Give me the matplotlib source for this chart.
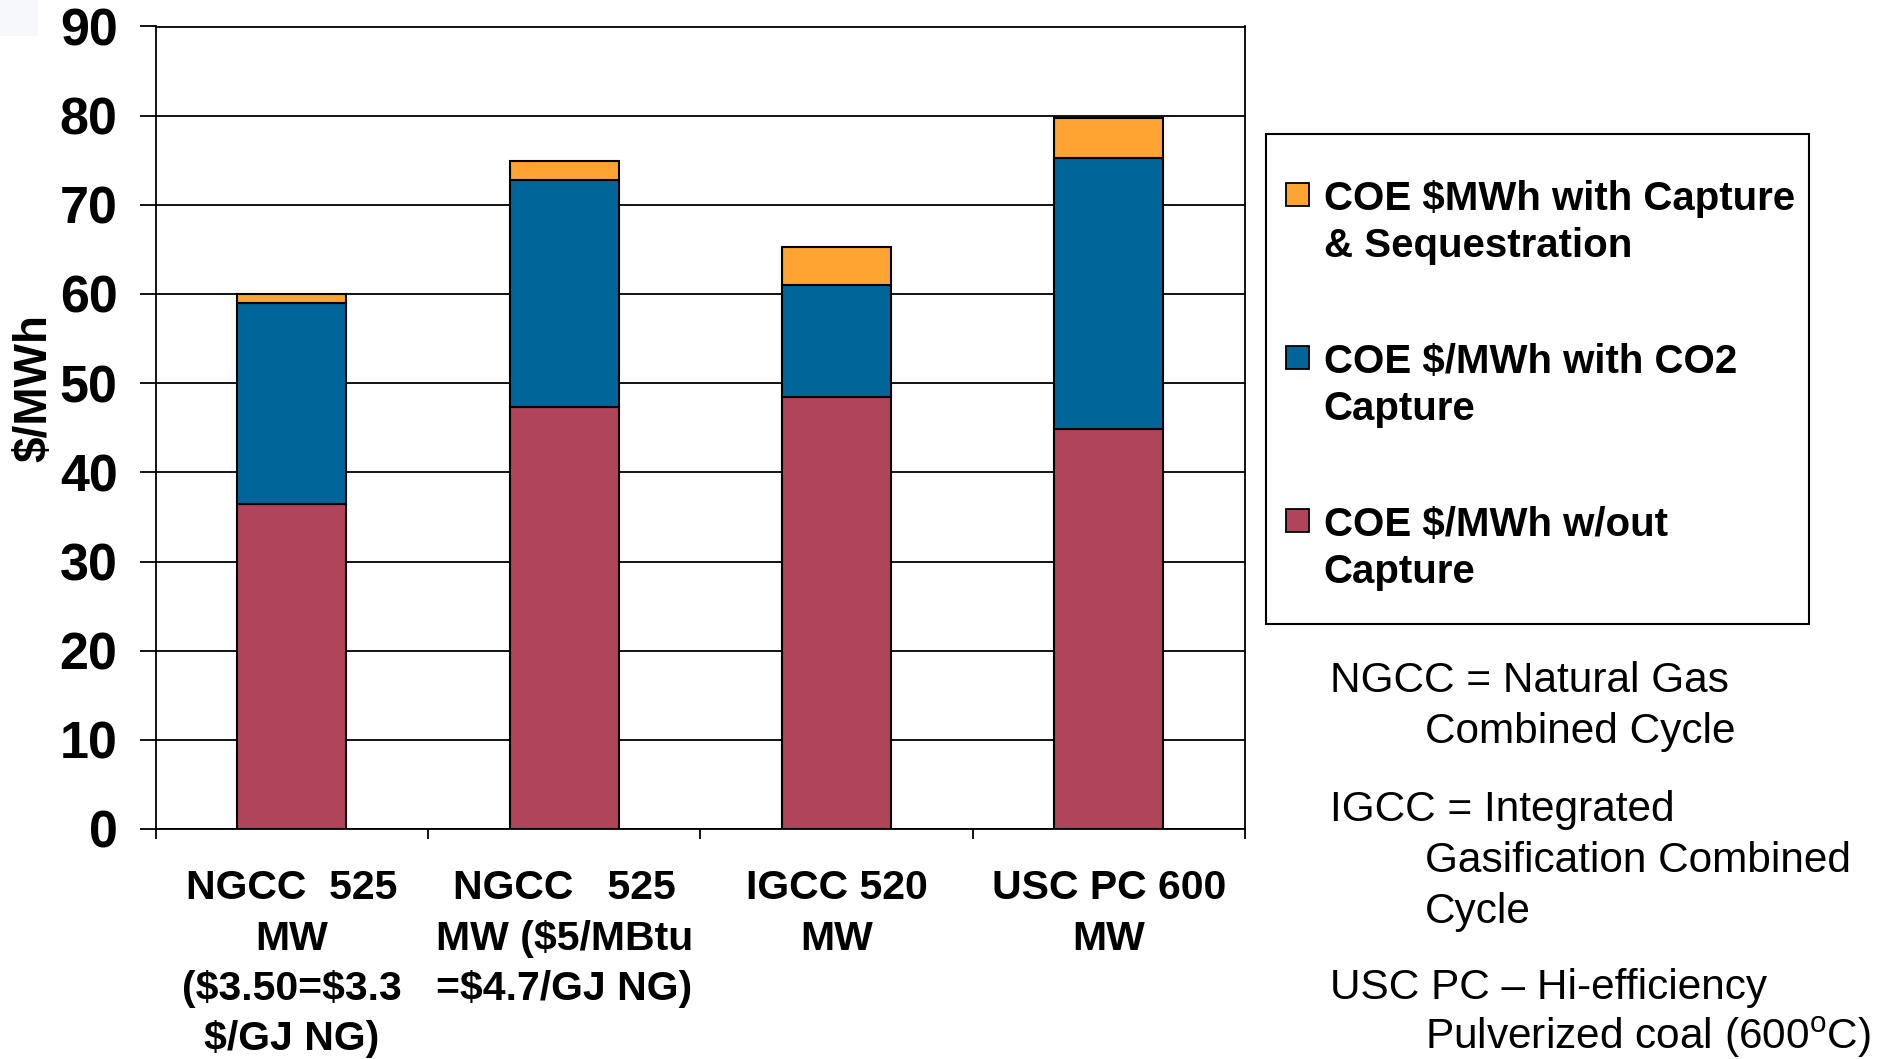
import matplotlib
matplotlib.use("Agg")
import matplotlib.pyplot as plt
from matplotlib.patches import Rectangle
import numpy as np

# Cost of electricity by plant type, $/MWh
categories = [
    "NGCC  525\nMW\n(\\$3.50=\\$3.3\n\\$/GJ NG)",
    "NGCC   525\nMW (\\$5/MBtu\n=\\$4.7/GJ NG)",
    "IGCC 520\nMW",
    "USC PC 600\nMW",
]
coe_without_capture = [36.5, 47.3, 48.4, 44.9]
coe_with_co2_capture = [59.0, 72.8, 61.0, 75.3]
coe_with_capture_seq = [60.0, 74.9, 65.3, 79.7]
y_ticks = [0, 10, 20, 30, 40, 50, 60, 70, 80, 90]

legend_labels = [
    ["COE \\$MWh with Capture", "& Sequestration"],
    ["COE \\$/MWh with CO2", "Capture"],
    ["COE \\$/MWh w/out", "Capture"],
]
notes = [
    ("NGCC = Natural Gas", ["Combined Cycle"]),
    ("IGCC = Integrated", ["Gasification Combined", "Cycle"]),
    ("USC PC \u2013 Hi-efficiency", ["Pulverized coal (600$^\\mathregular{o}$C)"]),
]

RED = "#B0445A"
BLUE = "#006699"
ORANGE = "#FFA333"

W, H = 1892, 1059
FONT = "Liberation Sans"
plt.rcParams["font.family"] = [FONT, "DejaVu Sans"]
plt.rcParams["mathtext.fontset"] = "custom"
plt.rcParams["mathtext.rm"] = FONT

fig = plt.figure(figsize=(W / 100, H / 100), dpi=100)
fig.patch.set_facecolor("white")


def fx(px):
    return px / W


def fy(py):
    return 1 - py / H


# faint tint in the top-left corner of the slide
fig.add_artist(Rectangle((0, fy(36)), fx(38), 36 / H, transform=fig.transFigure,
                         facecolor="#F7F8FB", edgecolor="none"))

ax_left, ax_right, ax_top, ax_bottom = 155.7, 1245.0, 26.5, 829.0
ax = fig.add_axes([fx(ax_left), fy(ax_bottom), fx(ax_right - ax_left), (ax_bottom - ax_top) / H])

x = np.arange(len(categories))
width = 0.4
lw = 1.5
without = np.array(coe_without_capture)
co2 = np.array(coe_with_co2_capture)
seq = np.array(coe_with_capture_seq)

ax.bar(x, without, width, color=RED, edgecolor="black", linewidth=lw, zorder=3)
ax.bar(x, co2 - without, width, bottom=without, color=BLUE, edgecolor="black", linewidth=lw, zorder=3)
ax.bar(x, seq - co2, width, bottom=co2, color=ORANGE, edgecolor="black", linewidth=lw, zorder=3)

ax.set_xlim(-0.5, len(categories) - 0.5)
ax.set_ylim(0, 90)
ax.set_yticks(y_ticks)
ax.set_yticklabels([str(v) for v in y_ticks], fontsize=37.5, fontweight="bold")
ax.yaxis.grid(True, color="black", linewidth=1.3, zorder=0)
ax.set_axisbelow(True)
ax.tick_params(axis="y", direction="out", length=11.5, width=1.3, pad=16)

ax.set_xticks(x)
ax.set_xticklabels(categories, fontsize=29.5, fontweight="bold", linespacing=1.41)
ax.set_xticks(np.arange(-0.5, len(categories)), minor=True)
ax.tick_params(axis="x", which="major", length=0, pad=29)
ax.tick_params(axis="x", which="minor", direction="out", length=7, width=1.3)

for side in ["left", "right", "top", "bottom"]:
    ax.spines[side].set_color("black")
    ax.spines[side].set_linewidth(1.3)

fig.text(fx(34.6), fy(388), "\\$/MWh", rotation=90, ha="center", va="center",
         fontsize=33, fontweight="bold")

# Legend box
fig.add_artist(Rectangle((fx(1265.7), fy(624)), fx(1808.7 - 1265.7), (624 - 134) / H,
                         transform=fig.transFigure, facecolor="white", edgecolor="black",
                         linewidth=1.5))
legend_colors = [ORANGE, BLUE, RED]
square_tops = [183.4, 346.0, 509.0]
baselines = [210.0, 373.0, 536.0]
legend_step = 47.0
for color, top, base, lines in zip(legend_colors, square_tops, baselines, legend_labels):
    fig.add_artist(Rectangle((fx(1286), fy(top + 23)), fx(23), 23 / H,
                             transform=fig.transFigure, facecolor=color,
                             edgecolor="black", linewidth=1.3))
    for k, line in enumerate(lines):
        fig.text(fx(1323.6), fy(base + k * legend_step), line, ha="left", va="baseline",
                 fontsize=29, fontweight="bold")

# Abbreviation notes
note_baselines = [692.5, 821.5, 998.5]
note_step = 50.8
for (first, rest), base in zip(notes, note_baselines):
    fig.text(fx(1330), fy(base), first, ha="left", va="baseline", fontsize=30.5)
    for k, line in enumerate(rest, start=1):
        fig.text(fx(1425), fy(base + k * note_step), line, ha="left", va="baseline",
                 fontsize=30.5)

fig.savefig("out.png", dpi=100)
